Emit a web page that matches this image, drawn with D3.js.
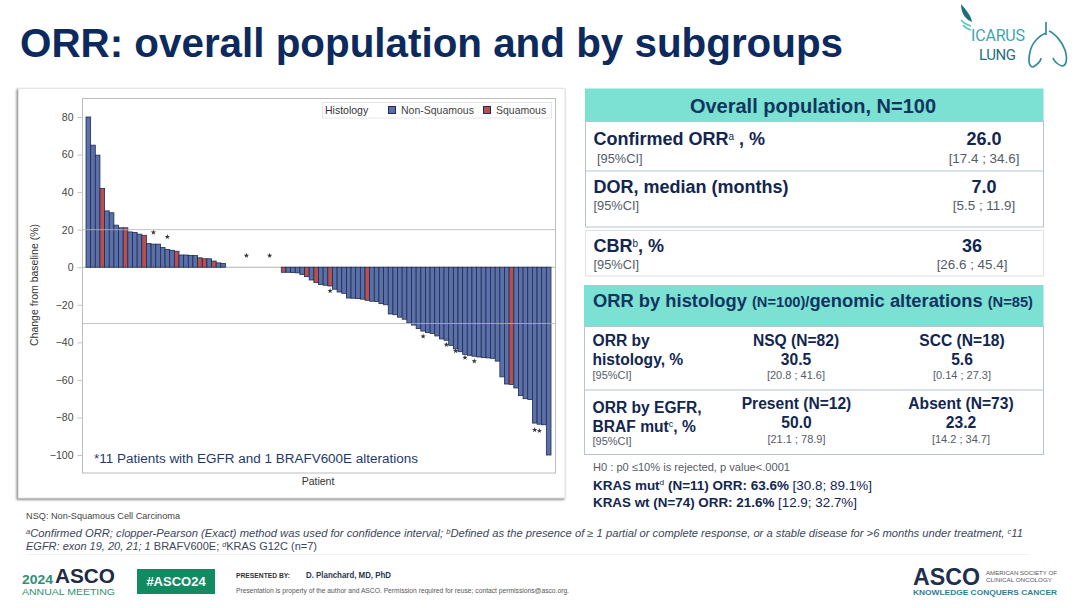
<!DOCTYPE html>
<html>
<head>
<meta charset="utf-8">
<script src="https://cdnjs.cloudflare.com/ajax/libs/d3/7.8.5/d3.min.js"></script>
<style>
html, body { margin: 0; padding: 0; background: #fff; }
svg { display: block; }
text { font-family: "Liberation Sans", Arial, sans-serif; }
</style>
</head>
<body>
<script>
// best overall change per patient
var changes = [80, 65, 59.7, 42, 30, 29, 22.4, 21, 21, 18.8,
    18.5, 17.6, 17, 12.6, 12.3, 12.3, 10.5, 9.5, 9, 8.5,
    6.5, 6.5, 6.3, 6.2, 5, 4.5, 4.5, 3.3, 2.3, 2,
    0, 0, 0, 0, 0, 0, 0, 0, 0, 0, 0, 0,
    -2.7, -2.7, -2.8, -3, -3.9, -5, -6.8, -8.2, -9.2, -9.6, -10,
    -11.7, -13.2, -13.9, -16.4, -16.5, -16.7, -17, -17.6, -18.1, -18.3,
    -19.4, -20, -24.9, -25.3, -26.6, -27.7, -29.6, -30.8, -32.7, -34,
    -34.8, -35.3, -36.6, -38.2, -38.9, -41.6, -43.5, -45, -46.4, -46.9,
    -47.4, -47.8, -48.1, -48.3, -48.5, -50, -58.4, -62.2, -62.4, -64.3,
    -68.4, -70, -70.4, -83, -83.6, -83.9, -100];
// patients (1-based) with squamous histology
var squamous = [4, 9, 13, 20, 25, 26, 28, 43, 48, 50, 53, 61, 92];
// asterisk markers
var starPatients = [15, 18, 35, 40, 53, 73, 78, 80, 82, 84, 97, 98];
var starValues = [18.5, 16.2, 6.2, 6.2, -12.6, -36.8, -41.2, -44.6, -48.1, -50, -86.6, -87.1];
var yTicks = [80, 60, 40, 20, 0, -20, -40, -60, -80, -100];
var refLines = [20, -30];

var navy = '#12264f';
var teal = '#7ce0d3';
var blue = '#5c70a8';
var red = '#b8504f';
var barLine = '#1d2b55';

var svg = d3.select('body').append('svg')
    .attr('width', 1080)
    .attr('height', 608);

svg.append('rect').attr('width', 1080).attr('height', 608).attr('fill', '#fff');

var defs = svg.append('defs');
defs.append('filter').attr('id', 'soft')
    .attr('x', '-5%').attr('y', '-5%').attr('width', '110%').attr('height', '110%')
    .append('feGaussianBlur').attr('stdDeviation', 0.9);

// text helper, parts are strings or [string, options] for mixed runs
function put(x, y, parts, o) {
    o = o || {};
    var t = svg.append('text')
        .attr('x', x)
        .attr('y', y)
        .attr('font-size', o.size || 12)
        .attr('font-weight', o.weight || 'normal')
        .attr('font-style', o.italic ? 'italic' : 'normal')
        .attr('fill', o.fill || navy)
        .attr('text-anchor', o.anchor || 'start');
    if (o.len) t.attr('textLength', o.len).attr('lengthAdjust', o.adjust || 'spacingAndGlyphs');
    if (o.family) t.style('font-family', o.family);
    if (typeof parts === 'string') parts = [parts];
    var back = 0; // drop back to the baseline after a superscript
    parts.forEach(function (p) {
        var txt = typeof p === 'string' ? p : p[0];
        var po = typeof p === 'string' ? {} : p[1];
        var s = t.append('tspan').text(txt);
        if (po.size) s.attr('font-size', po.size);
        if (po.weight) s.attr('font-weight', po.weight);
        if (po.italic === false) s.attr('font-style', 'normal');
        if (back) { s.attr('dy', back); back = 0; }
        if (po.sup) {
            back = po.rise || 5;
            s.attr('font-size', po.sup).attr('dy', -back);
        }
    });
    return t;
}

function box(x, y, w, h, fill, stroke) {
    return svg.append('rect')
        .attr('x', x).attr('y', y).attr('width', w).attr('height', h)
        .attr('fill', fill || 'none')
        .attr('stroke', stroke || 'none');
}

function rule(x1, x2, y, color, width) {
    svg.append('line')
        .attr('x1', x1).attr('x2', x2).attr('y1', y).attr('y2', y)
        .attr('stroke', color).attr('stroke-width', width || 1);
}

// title
put(20, 57, 'ORR: overall population and by subgroups',
    { size: 40.5, weight: 'bold', fill: '#0c2a5e', len: 823 });

// ---- chart panel
svg.append('rect')
    .attr('x', 16.5).attr('y', 89).attr('width', 548).attr('height', 411)
    .attr('fill', '#8f8f8f').attr('filter', 'url(#soft)');
box(18.5, 88.5, 546.5, 409.5, '#fff', '#e4e4e4');
box(82.5, 98.5, 473, 374.5, '#fff', '#bdbdbd');

var x = d3.scaleBand()
    .domain(d3.range(1, changes.length + 1))
    .range([86, 551]);

var y = d3.scaleLinear()
    .domain([80, -100])
    .range([117, 455]);

var yAxis = d3.axisLeft(y)
    .tickValues(yTicks)
    .tickSize(5)
    .tickPadding(4);

var axisG = svg.append('g')
    .attr('transform', 'translate(82.5,0)')
    .call(yAxis);
axisG.select('.domain').remove();
axisG.selectAll('.tick line').attr('stroke', '#c4c4c4');
axisG.selectAll('.tick text')
    .attr('font-size', 10.5)
    .attr('fill', '#444')
    .style('font-family', '"Liberation Sans", Arial, sans-serif');

// zero baseline sits under the bars
svg.append('line')
    .attr('x1', 82.5).attr('x2', 555.5)
    .attr('y1', y(0)).attr('y2', y(0))
    .attr('stroke', '#b4b4b4');

svg.selectAll('rect.bar')
    .data(changes.map(function (d, i) { return { patient: i + 1, value: d }; })
        .filter(function (d) { return d.value !== 0; }))
    .enter().append('rect')
    .attr('class', 'bar')
    .attr('x', function (d) { return x(d.patient); })
    .attr('width', x.bandwidth())
    .attr('y', function (d) { return Math.min(y(d.value), y(0)); })
    .attr('height', function (d) { return Math.abs(y(d.value) - y(0)); })
    .attr('fill', function (d) { return squamous.indexOf(d.patient) >= 0 ? red : blue; })
    .attr('stroke', barLine)
    .attr('stroke-width', 0.8);

svg.selectAll('line.ref')
    .data(refLines)
    .enter().append('line')
    .attr('class', 'ref')
    .attr('x1', 82.5).attr('x2', 555.5)
    .attr('y1', function (d) { return y(d); })
    .attr('y2', function (d) { return y(d); })
    .attr('stroke', '#b4b4b4')
    .attr('stroke-opacity', 0.8);

svg.selectAll('path.star')
    .data(starPatients)
    .enter().append('path')
    .attr('class', 'star')
    .attr('d', d3.symbol().type(d3.symbolStar).size(9))
    .attr('transform', function (d, i) {
        return 'translate(' + (x(d) + x.bandwidth() / 2) + ',' + y(starValues[i]) + ')';
    })
    .attr('fill', '#33333a');

// legend
box(322.5, 102.5, 229, 15.5, '#fff', '#e6e6e6');
put(325, 113.5, 'Histology', { size: 10.5, fill: '#333' });
box(388.5, 106.5, 7, 7, blue, barLine);
put(401, 113.5, 'Non-Squamous', { size: 10.5, fill: '#444' });
box(483.5, 106.5, 7, 7, red, barLine);
put(496, 113.5, 'Squamous', { size: 10.5, fill: '#444' });

put(94, 463, '*11 Patients with EGFR and 1 BRAFV600E alterations', { size: 12.5, fill: '#1f3a68', len: 324 });
put(318, 485, 'Patient', { size: 10.5, fill: '#333', anchor: 'middle' });
put(0, 0, 'Change from baseline (%)', { size: 10.5, fill: '#333', anchor: 'middle' })
    .attr('transform', 'translate(38,285) rotate(-90)');

// ---- overall population table
box(585, 88.5, 458.5, 33, teal);
put(813, 112.5, 'Overall population, N=100', { size: 20, weight: 'bold', fill: '#0f3560', anchor: 'middle' });
box(585.5, 121.5, 458, 105.5, '#fff', '#b7c2d3');
rule(585, 1044, 171, '#b7c2d3');
box(585.5, 230.5, 458, 45.5, '#fff', '#dfdfe6');

var gray = '#555b66';
put(593.5, 145, ['Confirmed ORR', ['a', { sup: 10, weight: 'normal' }], ' , %'], { size: 18, weight: 'bold' });
put(597, 163, '[95%CI]', { size: 12.8, fill: gray });
put(984, 145, '26.0', { size: 18, weight: 'bold', anchor: 'middle' });
put(984, 163, '[17.4 ; 34.6]', { size: 13.4, fill: gray, anchor: 'middle' });

put(593.5, 193, 'DOR, median (months)', { size: 18, weight: 'bold' });
put(593.5, 210, '[95%CI]', { size: 12.8, fill: gray });
put(984, 193, '7.0', { size: 18, weight: 'bold', anchor: 'middle' });
put(984, 210, '[5.5 ; 11.9]', { size: 13.4, fill: gray, anchor: 'middle' });

put(593.5, 252, ['CBR', ['b', { sup: 10, weight: 'normal' }], ', %'], { size: 18, weight: 'bold' });
put(593.5, 269, '[95%CI]', { size: 12.8, fill: gray });
put(972, 252, '36', { size: 18, weight: 'bold', anchor: 'middle' });
put(972, 269, '[26.6 ; 45.4]', { size: 13.4, fill: gray, anchor: 'middle' });

// ---- subgroup table
box(584, 285, 459.5, 41, teal);
put(593, 307, ['ORR by histology ', ['(N=100)/', { size: 14 }], 'genomic alterations ', ['(N=85)', { size: 14 }]],
    { size: 17.5, weight: 'bold', fill: '#0f3560', len: 440 });
box(584.5, 326.5, 459, 128, '#fff', '#b7c2d3');
rule(584, 1044, 390, '#b7c2d3');

put(592.5, 345.5, 'ORR by', { size: 15.6, weight: 'bold' });
put(592.5, 365, 'histology, %', { size: 15.6, weight: 'bold' });
put(592.5, 379, '[95%CI]', { size: 11, fill: gray });
put(796, 345.5, 'NSQ (N=82)', { size: 15.6, weight: 'bold', anchor: 'middle' });
put(796, 364.5, '30.5', { size: 15.6, weight: 'bold', anchor: 'middle' });
put(796, 379, '[20.8 ; 41.6]', { size: 11, fill: gray, anchor: 'middle' });
put(962, 345.5, 'SCC (N=18)', { size: 15.6, weight: 'bold', anchor: 'middle' });
put(962, 364.5, '5.6', { size: 15.6, weight: 'bold', anchor: 'middle' });
put(962, 379, '[0.14 ; 27.3]', { size: 11, fill: gray, anchor: 'middle' });

put(592.5, 412.5, 'ORR by EGFR,', { size: 15.6, weight: 'bold' });
put(592.5, 431.5, ['BRAF mut', ['c', { sup: 9, weight: 'normal' }], ', %'], { size: 15.6, weight: 'bold' });
put(592.5, 445, '[95%CI]', { size: 11, fill: gray });
put(796.5, 409, 'Present (N=12)', { size: 15.6, weight: 'bold', anchor: 'middle' });
put(796.5, 428, '50.0', { size: 15.6, weight: 'bold', anchor: 'middle' });
put(796.5, 443, '[21.1 ; 78.9]', { size: 11, fill: gray, anchor: 'middle' });
put(961, 409, 'Absent (N=73)', { size: 15.6, weight: 'bold', anchor: 'middle' });
put(961, 428, '23.2', { size: 15.6, weight: 'bold', anchor: 'middle' });
put(961, 443, '[14.2 ; 34.7]', { size: 11, fill: gray, anchor: 'middle' });

put(593, 470.5, 'H0 : p0 \u226410% is rejected, p value<.0001', { size: 11, fill: gray, len: 197 });
put(593, 490, [['KRAS mut', { weight: 'bold' }], ['d', { sup: 8 }], [' (N=11) ORR: 63.6%', { weight: 'bold' }], '  [30.8; 89.1%]'], { size: 13, len: 279 });
put(593, 507, [['KRAS wt (N=74) ORR: 21.6%', { weight: 'bold' }], '  [12.9; 32.7%]'], { size: 13, len: 264 });

// ---- footnotes
put(26, 519, 'NSQ: Non-Squamous Cell Carcinoma', { size: 9.5, fill: '#444', len: 154 });
put(26, 537, [['a', { sup: 7, rise: 3 }],
    'Confirmed ORR; clopper-Pearson (Exact) method was used for confidence interval; ',
    ['b', { sup: 7, rise: 3 }],
    'Defined as the presence of \u2265 1 partial or complete response, or a stable disease for >6 months under treatment, ',
    ['c', { sup: 7, rise: 3 }], '11'],
    { size: 10.3, italic: true, fill: '#3c4658', len: 997 });
put(26, 550, ['EGFR: exon 19, 20, 21; 1 ', ['BRAFV600E; ', { italic: false }], ['d', { sup: 7, rise: 3 }], ['KRAS  G12C (n=7)', { italic: false }]],
    { size: 11, italic: true, fill: '#3c4658' });
rule(26, 1030, 554.5, '#f0f0f0');

// ---- bottom banner
put(22, 584, '2024', { size: 13.5, weight: 'bold', fill: '#2f8f73', len: 31 });
put(55, 583, 'ASCO', { size: 21, weight: 'bold', fill: '#1f2a44', len: 60 });
put(22, 595.3, 'ANNUAL MEETING', { size: 8.5, fill: '#2f8f73', len: 93 });
box(137, 569, 78, 25, '#128a62');
put(176, 586, '#ASCO24', { size: 13, weight: 'bold', fill: '#fff', anchor: 'middle' });
put(236, 578, 'PRESENTED BY:', { size: 6.5, weight: 'bold', fill: '#333', len: 54 });
put(306, 578, 'D. Planchard, MD, PhD', { size: 8.5, weight: 'bold', fill: '#2a3550', len: 85 });
put(236, 593, 'Presentation is property of the author and ASCO. Permission required for reuse; contact permissions@asco.org.',
    { size: 6.3, fill: '#555', len: 333 });

put(913, 585, 'ASCO', { size: 24, weight: 'bold', fill: '#1f2f4f', len: 67 });
put(986, 575, 'AMERICAN SOCIETY OF', { size: 6.2, fill: '#555', len: 71 });
put(986, 582, 'CLINICAL ONCOLOGY', { size: 6.2, fill: '#555', len: 66 });
put(913, 595, 'KNOWLEDGE CONQUERS CANCER', { size: 7.5, weight: 'bold', fill: '#2f7f93', len: 144 });

// ---- Icarus Lung mark
var logoBlue = '#2f8c98';
svg.append('path')
    .attr('d', 'M961 4 C966 10 971 15 972 22 C967 20 961 15 961 4 Z')
    .attr('fill', '#1d6f7a');
svg.append('path')
    .attr('d', 'M961 20 C964 24 968 25 971 26 M963 25 C965 28 968 29 971 30')
    .attr('fill', 'none').attr('stroke', '#5fc3bd').attr('stroke-width', 1.6);
put(971, 41, 'ICARUS', { size: 16, fill: '#3fa6ab', len: 54, adjust: 'spacing', family: '"Roboto", sans-serif' });
put(979, 60, 'LUNG', { size: 15, fill: '#1f6f80', len: 37, adjust: 'spacing', family: '"Roboto", sans-serif' });
svg.append('path')
    .attr('d', 'M1046 22 L1046 35 M1046 33 C1040 35 1032 42 1030 52 C1028 61 1029 67 1033 67 C1037 65 1041 61 1041 58 M1049 31 C1054 33 1062 41 1065 50 C1068 60 1066 66 1062 66 C1058 65 1054 61 1053 58')
    .attr('fill', 'none').attr('stroke', logoBlue).attr('stroke-width', 1.7);
</script>
</body>
</html>
